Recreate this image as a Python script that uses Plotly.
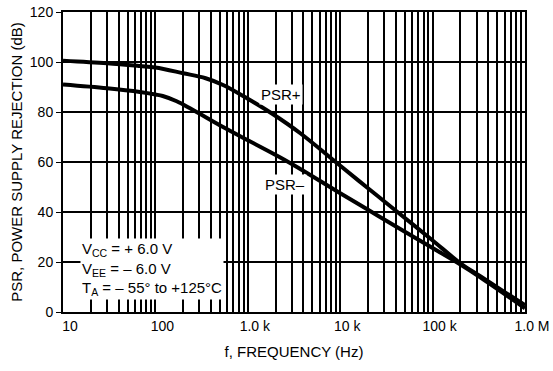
import math
import plotly.graph_objects as go

# --- data ---
freq_plus = [10, 30, 68, 100, 200, 350, 540, 1000, 1860, 3700, 9800, 20000, 41000, 98000, 200000, 325000, 1000000]
psr_plus = [100.5, 99.5, 98.4, 97.8, 95.5, 93.5, 90.8, 85.3, 79.2, 71.5, 58.8, 49.5, 40.2, 28.9, 19.5, 14.4, 2.7]

freq_minus = [10, 30, 68, 100, 120, 170, 237, 540, 1050, 2200, 3700, 9800, 20000, 41000, 98000, 200000, 325000, 1000000]
psr_minus = [91, 89.5, 88, 87, 86.4, 84.3, 81.5, 74, 68.3, 62, 57.2, 47.7, 40.9, 34.0, 25.8, 19, 14, 1.5]

decade_vals = [10, 100, 1000, 10000, 100000, 1000000]
decade_labels = ["10", "100", "1.0 k", "10 k", "100 k", "1.0 M"]
y_ticks = [0, 20, 40, 60, 80, 100, 120]

# grid at every 1..9 multiple, labels only at decades
xtickvals, xticktext = [], []
for d, lab in zip(decade_vals, decade_labels):
    for m in range(1, 10):
        v = d * m
        if v > 1000000:
            break
        xtickvals.append(v)
        xticktext.append(lab if m == 1 else "")

FONT = "Liberation Sans, Arial, sans-serif"

fig = go.Figure()
fig.add_trace(go.Scatter(x=freq_plus, y=psr_plus, mode="lines",
                         line=dict(color="black", width=4, shape="spline", smoothing=1.0),
                         showlegend=False, hoverinfo="skip"))
fig.add_trace(go.Scatter(x=freq_minus, y=psr_minus, mode="lines",
                         line=dict(color="black", width=4, shape="spline", smoothing=1.0),
                         showlegend=False, hoverinfo="skip"))

fig.add_annotation(x=math.log10(2300), y=87.2, xref="x", yref="y", text="PSR+",
                   showarrow=False, bgcolor="white", borderpad=1,
                   font=dict(family=FONT, size=15, color="black"))
fig.add_annotation(x=math.log10(2500), y=51, xref="x", yref="y", text="PSR–",
                   showarrow=False, bgcolor="white", borderpad=1,
                   font=dict(family=FONT, size=15, color="black"))
fig.add_annotation(x=math.log10(15.3), y=17.2, xref="x", yref="y",
                   xanchor="left", yanchor="middle", align="left",
                   text="V<sub>CC</sub> = + 6.0 V<br>V<sub>EE</sub> = – 6.0 V<br>T<sub>A</sub> = – 55° to +125°C",
                   showarrow=False, bgcolor="white", borderpad=1,
                   font=dict(family=FONT, size=15, color="black"))

fig.update_xaxes(type="log", range=[1, 6], automargin=False,
                 tickvals=xtickvals, ticktext=xticktext, tickangle=0,
                 showgrid=True, gridcolor="black", gridwidth=1.5,
                 showline=True, linecolor="black", linewidth=2, mirror=True,
                 ticks="", zeroline=False, ticklabelshift=7,
                 tickfont=dict(family=FONT, size=14, color="black"),
                 title=dict(text="f, FREQUENCY (Hz)", standoff=14,
                            font=dict(family=FONT, size=15, color="black")))
fig.update_yaxes(range=[0, 120], tickvals=y_ticks, automargin=False,
                 showgrid=True, gridcolor="black", gridwidth=1.5,
                 showline=True, linecolor="black", linewidth=2, mirror=True,
                 ticks="outside", ticklen=5, tickcolor="black", zeroline=False,
                 tickfont=dict(family=FONT, size=14, color="black"),
                 title=dict(text="PSR, POWER SUPPLY REJECTION (dB)", standoff=4,
                            font=dict(family=FONT, size=15, color="black")))

fig.update_layout(width=553, height=371,
                  margin=dict(l=63, r=28, t=12, b=59),
                  paper_bgcolor="white", plot_bgcolor="white")

fig.write_html("out.html")
